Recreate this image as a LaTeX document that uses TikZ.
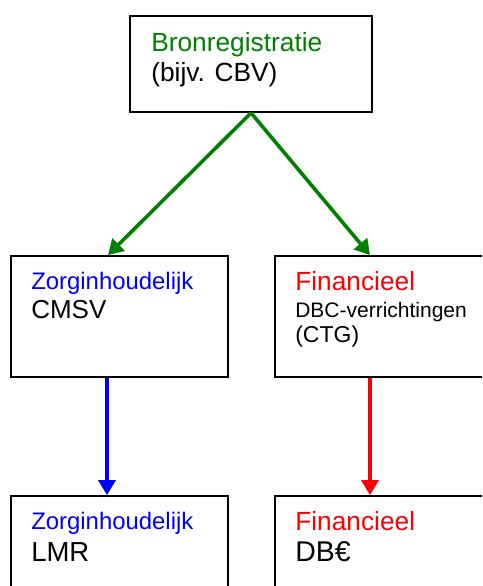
\documentclass[tikz,border=0pt]{standalone}
\usepackage{fontspec}
\setmainfont{Liberation Sans}
\usepackage{xcolor}
\definecolor{srcGreen}{HTML}{008000}
\definecolor{careBlue}{HTML}{0000FF}
\definecolor{finRed}{HTML}{FF0000}
\usetikzlibrary{calc}
\usetikzlibrary{arrows.meta}
\newcommand{\txtsize}[1]{\fontsize{#1}{#1}\selectfont}
\tikzset{
    regbox/.style={draw=black, line width=1.8pt, fill=white, rectangle, inner sep=0pt},
    boxtxt/.style={font=\txtsize{#1}, inner sep=0pt, anchor=base west},
    boxtxt/.default=26,
    flowArrow/.style={line width=3.6pt, -{Triangle[length=15pt,width=17pt]}}
}

\begin{document}
\begin{tikzpicture}[x=1pt, y=1pt]
  \useasboundingbox (0,0) rectangle (482,-586);
  \clip (0,0) rectangle (482,-586);

  % box sizes
  \def\Wb{217}   % width of the lower boxes
  \def\Hb{121}   % height of the lower boxes

  % source box
  \node[regbox, minimum width=242pt, minimum height=96pt] (bron) at (251,-64) {};
  \node[boxtxt=26.3, text=srcGreen] (bronHead) at ([xshift=22pt,yshift=-36pt]bron.north west) {Bronregistratie};
  \node[boxtxt=26.3] (bronBody) at ([yshift=-30pt]bronHead.base west) {(bijv. CBV)};

  % middle row
  \node[regbox, minimum width=\Wb pt, minimum height=\Hb pt] (cmsv) at (119.5,-316.5) {};
  \node[regbox, minimum width=\Wb pt, minimum height=\Hb pt] (dbc)  at (383.5,-316.5) {};
  \node[boxtxt=23.9, text=careBlue] (cmsvHead) at ([xshift=21pt,yshift=-34pt]cmsv.north west) {Zorginhoudelijk};
  \node[boxtxt=26] (cmsvBody) at ([yshift=-29pt]cmsvHead.base west) {CMSV};
  \node[boxtxt=26.3, text=finRed] (dbcHead) at ([xshift=21pt,yshift=-35pt]dbc.north west) {Financieel};
  \node[boxtxt=21] (dbcBody) at ([yshift=-27pt]dbcHead.base west) {DBC-verrichtingen};
  \node[boxtxt=23] (dbcNote) at ([yshift=-25pt]dbcBody.base west) {(CTG)};

  % bottom row (runs off the page)
  \node[regbox, minimum width=\Wb pt, minimum height=\Hb pt] (lmr) at (119.5,-556.5) {};
  \node[regbox, minimum width=\Wb pt, minimum height=\Hb pt] (dbe) at (383.5,-556.5) {};
  \node[boxtxt=23.9, text=careBlue] (lmrHead) at ([xshift=21pt,yshift=-34pt]lmr.north west) {Zorginhoudelijk};
  \node[boxtxt=27.5] (lmrBody) at ([yshift=-32pt]lmrHead.base west) {LMR};
  \node[boxtxt=26.3, text=finRed] (dbeHead) at ([xshift=21pt,yshift=-35pt]dbe.north west) {Financieel};
  \node[boxtxt=28.5] (dbeBody) at ([yshift=-31pt]dbeHead.base west) {DB€};

  % arrows
  \draw[flowArrow, draw=srcGreen, fill=srcGreen] (bron.south) -- ([xshift=-11.5pt]cmsv.north);
  \draw[flowArrow, draw=srcGreen, fill=srcGreen] (bron.south) -- ([xshift=-13.5pt]dbc.north);
  \draw[flowArrow, draw=careBlue, fill=careBlue] ([xshift=-12.5pt]cmsv.south) -- ([xshift=-12.5pt]lmr.north);
  \draw[flowArrow, draw=finRed, fill=finRed] ([xshift=-13.5pt]dbc.south) -- ([xshift=-13.5pt]dbe.north);
\end{tikzpicture}
\end{document}
